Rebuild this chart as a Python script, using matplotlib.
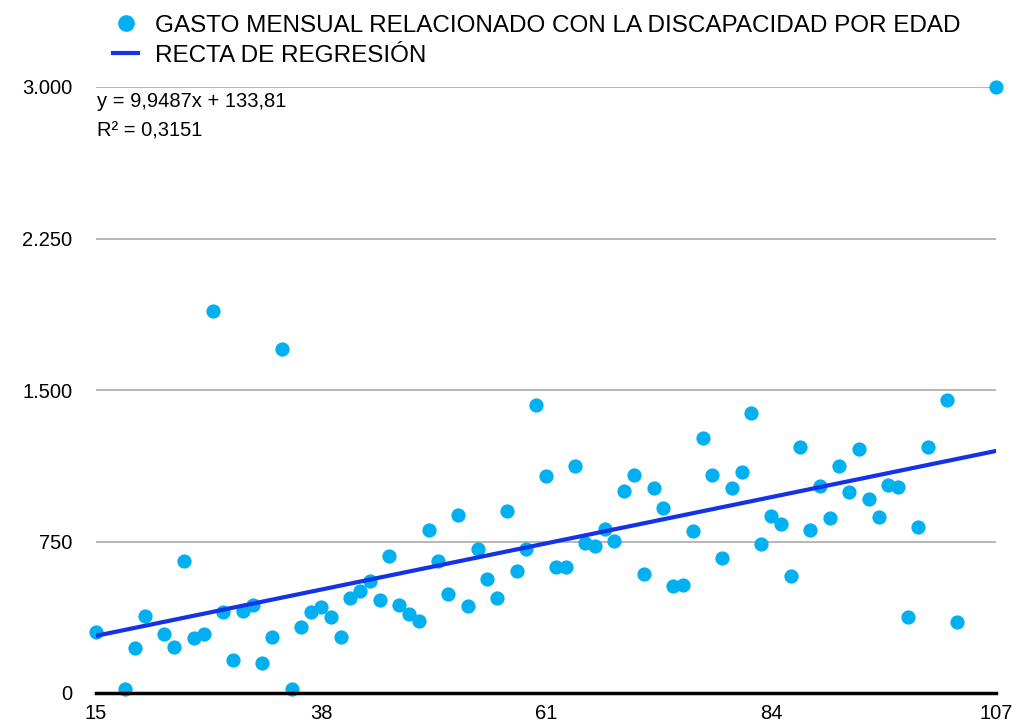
import numpy as np
import matplotlib
matplotlib.use('Agg')
import matplotlib.pyplot as plt
from matplotlib.lines import Line2D
from matplotlib.ticker import FuncFormatter

plt.rcParams['font.family'] = ['Liberation Sans', 'DejaVu Sans']

# edad y gasto mensual
edad = [15, 18, 19, 20, 22, 23, 24, 25, 26, 27, 28, 29, 30, 31, 32, 33, 34, 35, 36, 37,
        38, 39, 40, 41, 42, 43, 44, 45, 46, 47, 48, 49, 50, 51, 52, 53, 54, 55, 56, 57,
        58, 59, 60, 61, 62, 63, 64, 65, 66, 67, 68, 69, 70, 71, 72, 73, 74, 75, 76, 77,
        78, 79, 80, 81, 82, 83, 84, 85, 86, 87, 88, 89, 90, 91, 92, 93, 94, 95, 96, 97,
        98, 99, 100, 102, 103, 107]
gasto = [302, 20, 223, 381, 292, 228, 653, 272, 292, 1891, 401, 163, 406, 436, 149, 277, 1703, 20, 327, 401,
         426, 376, 277, 470, 505, 554, 460, 678, 436, 391, 356, 807, 653, 490, 881, 431, 713, 564, 470, 901,
         604, 713, 1426, 1074, 624, 624, 1124, 743, 728, 812, 752, 1000, 1079, 589, 1015, 916, 530, 535, 802, 1262,
         1079, 668, 1015, 1094, 1386, 738, 876, 837, 579, 1218, 807, 1025, 866, 1124, 995, 1208, 960, 871, 1030, 1020,
         376, 822, 1218, 1450, 351, 3000]

pendiente = 9.9487
intercepto = 133.81
r2 = 0.3151

xticks = [15, 38, 61, 84, 107]
yticks = [0, 750, 1500, 2250, 3000]

fig = plt.figure(figsize=(10.18, 7.25), dpi=100)
ax = fig.add_axes([96/1018, 32/725, 900/1018, 606/725])

ax.scatter(edad, gasto, s=105, color='#00b0f0', zorder=3, clip_on=False, linewidths=0)
xr = np.array([15, 107])
ax.plot(xr, pendiente * xr + intercepto, color='#1433e6', lw=3, zorder=4)

ax.set_xlim(15, 107)
ax.set_ylim(0, 3000)
ax.set_xticks(xticks)
ax.set_yticks(yticks)
ax.yaxis.set_major_formatter(FuncFormatter(lambda v, p: f'{int(v):,}'.replace(',', '.')))
ax.grid(axis='y', color='#aaaaaa', lw=1.2)
ax.set_axisbelow(True)
for s in ['left', 'right', 'top']:
    ax.spines[s].set_visible(False)
ax.spines['bottom'].set_linewidth(2.5)
ax.spines['bottom'].set_color('black')
ax.spines['bottom'].set_zorder(5)
ax.tick_params(axis='both', length=0, labelsize=14.5)
ax.tick_params(axis='y', pad=17)
ax.tick_params(axis='x', pad=8)

ax.text(15.1, 2975, 'y = 9,9487x + 133,81', fontsize=14.5, va='top', ha='left')
ax.text(15.1, 2830, 'R² = 0,3151', fontsize=14.5, va='top', ha='left')

handles = [Line2D([], [], marker='o', ls='none', color='#00b0f0', markersize=11),
           Line2D([], [], color='#1433e6', lw=3)]
fig.legend(handles, ['GASTO MENSUAL RELACIONADO CON LA DISCAPACIDAD POR EDAD', 'RECTA DE REGRESIÓN'],
           loc='upper left', bbox_to_anchor=(0.090, 1.010), frameon=False, fontsize=17.5,
           handlelength=1.0, handletextpad=0.7, labelspacing=0.33)

fig.savefig('out.png', dpi=100)
